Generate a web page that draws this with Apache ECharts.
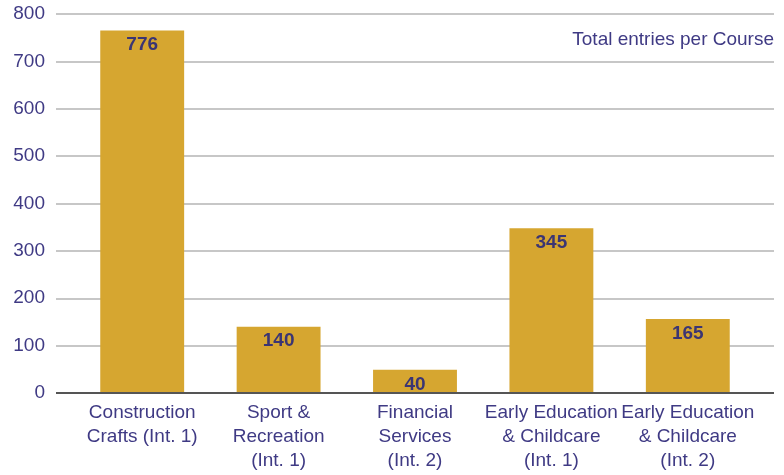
<!DOCTYPE html>
<html><head><meta charset="utf-8">
<script src="https://cdn.jsdelivr.net/npm/echarts@6/dist/echarts.min.js"></script>
<style>html,body{margin:0;padding:0;background:#fff}#c{width:784px;height:475px}</style>
</head><body><div id="c"></div>
<script>
const categories = ["Construction\nCrafts (Int. 1)", "Sport &\nRecreation\n(Int. 1)", "Financial\nServices\n(Int. 2)", "Early Education\n& Childcare\n(Int. 1)", "Early Education\n& Childcare\n(Int. 2)"];
const barHeights = [765, 140, 49, 348, 156];
const barLabels = ["776", "140", "40", "345", "165"];
const yTicks = [0, 100, 200, 300, 400, 500, 600, 700, 800];
const title = "Total entries per Course";

const txt = '#3f3a84';
const font = 'Liberation Sans';
const chart = echarts.init(document.getElementById('c'));
chart.setOption({
  animation: false,
  title: { text: title, right: 10, top: 30, padding: 0, textStyle: { color: txt, fontFamily: font, fontSize: 19, fontWeight: 'normal' } },
  grid: [
    { left: 56, right: 10, top: 14, bottom: 82 },
    { left: 74, right: 28, top: 14, bottom: 82 }
  ],
  xAxis: [
    { gridIndex: 0, type: 'value', show: false, min: 0, max: 1 },
    { gridIndex: 1, type: 'category', data: categories,
      axisLine: { show: false }, axisTick: { show: false },
      axisLabel: { color: txt, fontFamily: font, fontSize: 19, lineHeight: 24, margin: 8, interval: 0 } }
  ],
  yAxis: [
    { gridIndex: 0, type: 'value', min: 0, max: 800, interval: 100,
      axisLine: { show: false }, axisTick: { show: false },
      axisLabel: { color: txt, fontFamily: font, fontSize: 19, margin: 11,
        formatter: v => yTicks.includes(v) ? String(v) : '' },
      splitLine: { lineStyle: { color: '#b4b4b4', width: 1.5 } } },
    { gridIndex: 1, type: 'value', min: 0, max: 800, interval: 100, show: false, splitLine: { show: false } }
  ],
  series: [
    { type: 'line', xAxisIndex: 0, yAxisIndex: 0, data: [[0,0],[1,0]], symbol: 'none',
      lineStyle: { color: '#555', width: 2 }, z: 5, silent: true },
    { type: 'bar', xAxisIndex: 1, yAxisIndex: 1, data: barHeights, barWidth: '61.5%',
      itemStyle: { color: '#D6A630' }, z: 3,
      label: { show: true, position: 'insideTop', distance: 5,
        formatter: p => barLabels[p.dataIndex],
        color: '#3b3573', fontFamily: font, fontSize: 19, fontWeight: 'bold' } }
  ]
});
</script></body></html>
